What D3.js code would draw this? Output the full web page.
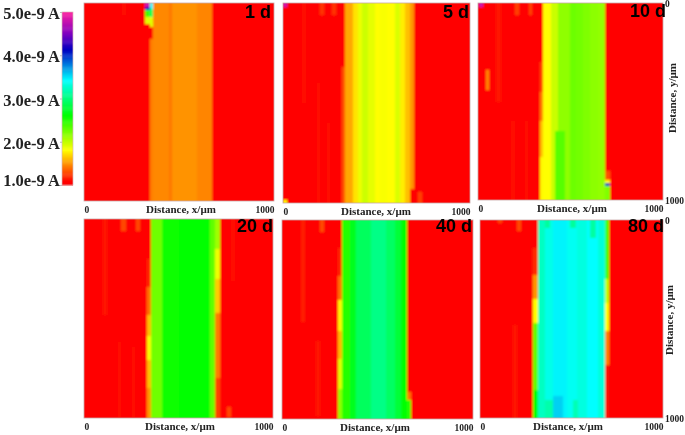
<!DOCTYPE html>
<html>
<head>
<meta charset="utf-8">
<script src="https://d3js.org/d3.v7.min.js"></script>
<style>
    html, body { margin: 0; padding: 0; background: #fff; }
    svg { display: block; }
    text { font-family: "Liberation Serif", serif; font-weight: bold; fill: #222; }
    .day { font-family: "Liberation Sans", sans-serif; font-size: 18px; fill: #000; }
</style>
</head>
<body>
<div id="chart"></div>
<script>
// current in units of 1e-9 A, distances in um
var legendTicks = [1, 2, 3, 4, 5];
var axisTicks = [0, 1000];
var background = 1.05;

var colorStops = [1.07, 1.8, 2.6, 3.42, 4.12, 4.5, 5];
var colorNames = ["#ff0000", "#ffff00", "#00ff00", "#00ffff", "#0000c0", "#8000c0", "#ff20a0"];

// vertical stripes of the band: edges in x, one value between each pair
var edges1 = [346, 365, 447, 461, 593, 672];
var values1 = [1.43, 1.46, 1.41, 1.49, 1.45];
var edges5 = [333, 376, 402, 420, 456, 491, 518, 557, 598, 625, 651, 678, 703];
var values5 = [1.55, 1.72, 1.86, 1.96, 1.88, 1.8, 1.82, 1.8, 1.92, 1.75, 1.62, 1.5];
var edges10 = [353, 396, 432, 495, 531, 567, 603, 648, 689];
var values10 = [1.8, 1.97, 2.15, 2.26, 2.24, 2.2, 2.16, 2.14, 2.12];
var edges20 = [356, 415, 500, 580, 665, 695, 718];
var values20 = [2.25, 2.55, 2.6, 2.58, 2.3, 2.1];
var edges40 = [312, 354, 386, 468, 546, 590, 625, 656];
var values40 = [2.5, 2.7, 2.9, 3.03, 2.92, 2.78, 2.62];
var edges80 = [315, 355, 400, 473, 528, 582, 646, 682, 704];
var values80 = [3.22, 3.35, 3.45, 3.38, 3.32, 3.42, 3.3, 2.4];

// local spots: x0, x1, y0, y1, value
var spots1 = [
    [323, 346, 0, 20, 4.8], [323, 346, 20, 37, 4.2], [323, 346, 37, 70, 2.4], [323, 346, 70, 104, 1.9],
    [346, 365, 0, 30, 3.4], [346, 365, 30, 70, 2.9], [346, 365, 70, 121, 1.9], [346, 365, 121, 180, 1.05],
    [200, 221, 0, 62, 1.12]
];
var spots5 = [
    [2, 20, 0, 20, 4.8], [100, 122, 0, 500, 1.12], [198, 221, 0, 60, 1.22], [262, 283, 0, 60, 1.22],
    [314, 333, 320, 1000, 1.3], [681, 703, 930, 1000, 1.05], [722, 742, 945, 1000, 1.25], [0, 20, 985, 1000, 1.8],
    [180, 198, 400, 1000, 1.1], [235, 250, 600, 1000, 1.09]
];
var spots10 = [
    [4, 27, 0, 22, 4.8], [99, 122, 0, 500, 1.14], [198, 221, 0, 62, 1.25], [274, 293, 0, 62, 1.25],
    [41, 61, 340, 441, 1.45], [333, 353, 300, 450, 1.25], [333, 353, 450, 600, 1.42], [333, 353, 600, 780, 1.62],
    [333, 353, 780, 1000, 1.78], [415, 470, 650, 1000, 2.33],
    [689, 713, 855, 897, 1.3], [689, 713, 897, 914, 1.8], [689, 713, 914, 931, 4.1], [689, 713, 931, 1000, 2.2],
    [180, 198, 600, 1000, 1.1], [255, 272, 600, 1000, 1.1]
];
var spots20 = [
    [101, 122, 0, 482, 1.13], [198, 221, 0, 62, 1.27], [274, 295, 0, 62, 1.27],
    [334, 356, 200, 340, 1.18], [334, 356, 340, 480, 1.4], [334, 356, 480, 590, 1.62], [334, 356, 590, 710, 1.82],
    [334, 356, 710, 850, 1.62], [334, 356, 850, 1000, 1.5],
    [695, 718, 150, 300, 1.85], [695, 718, 300, 470, 1.65], [695, 718, 470, 800, 1.42], [695, 718, 800, 1000, 1.25],
    [180, 198, 616, 995, 1.12], [254, 272, 645, 995, 1.12], [754, 776, 944, 995, 1.27], [776, 798, 0, 310, 1.09]
];
var spots40 = [
    [101, 122, 0, 511, 1.15], [197, 220, 0, 59, 1.28], [180, 197, 610, 985, 1.13],
    [291, 312, 142, 280, 1.18], [291, 312, 280, 400, 1.4], [291, 312, 400, 560, 1.78], [291, 312, 560, 700, 1.6],
    [291, 312, 700, 850, 1.9], [291, 312, 850, 1000, 2.15],
    [656, 677, 863, 905, 1.4], [656, 677, 905, 1000, 2.5]
];
var spots80 = [
    [100, 122, 0, 15, 1.25], [200, 222, 0, 55, 1.28], [182, 200, 530, 1000, 1.13],
    [291, 315, 140, 280, 1.2], [291, 315, 280, 400, 1.5], [291, 315, 400, 520, 1.8], [291, 315, 520, 860, 2.3], [291, 315, 860, 1000, 2.6],
    [355, 382, 0, 40, 3.1], [490, 525, 0, 40, 3.1], [600, 635, 0, 90, 3.12],
    [355, 400, 910, 1000, 3.15], [400, 455, 890, 1000, 3.55], [510, 535, 910, 1000, 3.18],
    [682, 704, 300, 420, 2.0], [682, 704, 420, 560, 1.8], [682, 704, 560, 730, 1.45], [682, 704, 730, 1000, 1.1], [704, 760, 980, 1000, 1.05]
];

var dayLabels = ["1 d", "5 d", "10 d", "20 d", "40 d", "80 d"];
var allEdges = [edges1, edges5, edges10, edges20, edges40, edges80];
var allValues = [values1, values5, values10, values20, values40, values80];
var allSpots = [spots1, spots5, spots10, spots20, spots40, spots80];

// pixel boxes of the six maps
var boxes = [
    {left: 84, right: 274, top: 3, bottom: 201, labelX: 181, dayX: 271, dayY: 18},
    {left: 283, right: 470, top: 3, bottom: 203, labelX: 376, dayX: 469, dayY: 18},
    {left: 478, right: 663, top: 3, bottom: 200, labelX: 572, dayX: 666, dayY: 17, yAxis: true, yLabelX: 672, yLabelY: 98},
    {left: 84, right: 273, top: 219, bottom: 418, labelX: 180, dayX: 273, dayY: 232},
    {left: 282, right: 473, top: 220, bottom: 419, labelX: 375, dayX: 472, dayY: 232},
    {left: 480, right: 663, top: 220, bottom: 418, labelX: 568, dayX: 664, dayY: 232, yAxis: true, yLabelX: 669, yLabelY: 320}
];

var width = 685, height = 435;

var color = d3.scaleLinear().domain(colorStops).range(colorNames).clamp(true);

var svg = d3.select("#chart").append("svg")
    .attr("width", width)
    .attr("height", height);

var defs = svg.append("defs");

defs.append("filter")
    .attr("id", "mapBlur")
    .attr("x", "-2%").attr("y", "-2%").attr("width", "104%").attr("height", "104%")
    .append("feGaussianBlur")
    .attr("stdDeviation", "0.95 0.8");

defs.append("filter")
    .attr("id", "textBlur")
    .attr("x", "-5%").attr("y", "-5%").attr("width", "110%").attr("height", "110%")
    .append("feGaussianBlur")
    .attr("stdDeviation", 0.35);

var root = svg.append("g");

function drawPanel(i) {
    var box = boxes[i];
    var x = d3.scaleLinear().domain(axisTicks).range([box.left, box.right]);
    var y = d3.scaleLinear().domain(axisTicks).range([box.top, box.bottom]);
    var g = root.append("g");

    // clip so the blur of the map stays inside its frame
    defs.append("clipPath")
        .attr("id", "clip" + i)
        .append("rect")
        .attr("x", x(0)).attr("y", y(0))
        .attr("width", x(1000) - x(0)).attr("height", y(1000) - y(0));

    var map = g.append("g")
        .attr("clip-path", "url(#clip" + i + ")")
        .append("g")
        .attr("filter", "url(#mapBlur)");

    map.append("rect")
        .attr("x", x(0) - 4).attr("y", y(0) - 4)
        .attr("width", x(1000) - x(0) + 8).attr("height", y(1000) - y(0) + 8)
        .attr("fill", color(background));

    var stripes = allValues[i].map(function(v, k) {
        return [allEdges[i][k], allEdges[i][k + 1], 0, 1000, v];
    });

    map.selectAll("rect.cell")
        .data(stripes.concat(allSpots[i]))
        .enter().append("rect")
        .attr("class", "cell")
        .attr("shape-rendering", "crispEdges")
        .attr("x", function(d) { return x(d[0]); })
        .attr("y", function(d) { return y(d[2]) - (d[2] === 0 ? 4 : 0); })
        .attr("width", function(d) { return x(d[1]) - x(d[0]); })
        .attr("height", function(d) {
            return y(d[3]) - y(d[2]) + (d[2] === 0 ? 4 : 0) + (d[3] === 1000 ? 4 : 0);
        })
        .attr("fill", function(d) { return color(d[4]); });

    g.append("rect")
        .attr("x", x(0)).attr("y", y(0))
        .attr("width", x(1000) - x(0)).attr("height", y(1000) - y(0))
        .attr("fill", "none")
        .attr("stroke", "#c9a9a9")
        .attr("stroke-width", 0.8);

    var labels = g.append("g").attr("filter", "url(#textBlur)");

    var xAxis = d3.axisBottom(x).tickValues(axisTicks).tickSize(0).tickPadding(3).tickFormat(d3.format("d"));
    var ax = labels.append("g")
        .attr("transform", "translate(0," + (box.bottom + 2) + ")")
        .call(xAxis);
    ax.select(".domain").remove();
    ax.selectAll("text")
        .attr("font-size", 9.5)
        .attr("font-family", null)
        .style("text-anchor", function(d) { return d === 0 ? "start" : "end"; });

    labels.append("text")
        .attr("x", box.labelX)
        .attr("y", box.bottom + 11.5)
        .attr("text-anchor", "middle")
        .attr("font-size", 11)
        .text("Distance, x/\u00b5m");

    labels.append("text")
        .attr("class", "day")
        .attr("x", box.dayX)
        .attr("y", box.dayY)
        .attr("text-anchor", "end")
        .text(dayLabels[i]);

    if (box.yAxis) {
        var yAxis = d3.axisRight(y).tickValues(axisTicks).tickSize(0).tickPadding(2).tickFormat(d3.format("d"));
        var ay = labels.append("g")
            .attr("transform", "translate(" + box.right + ",0)")
            .call(yAxis);
        ay.select(".domain").remove();
        ay.selectAll("text").attr("font-size", 9.5).attr("font-family", null);

        labels.append("text")
            .attr("text-anchor", "middle")
            .attr("font-size", 11)
            .attr("transform", "translate(" + (box.yLabelX + 4) + "," + box.yLabelY + ")rotate(-90)")
            .text("Distance, y/\u00b5m");
    }
}

d3.range(6).forEach(drawPanel);

// colour legend
var legendY = d3.scaleLinear().domain([1, 5]).range([185, 12]);
var legendCells = d3.range(1, 5, 0.025);

root.append("g").selectAll("rect")
    .data(legendCells)
    .enter().append("rect")
    .attr("x", 62)
    .attr("width", 11)
    .attr("y", function(d) { return legendY(d + 0.025); })
    .attr("height", function(d) { return legendY(d) - legendY(d + 0.025) + 0.5; })
    .attr("fill", function(d) { return color(d); });

root.append("rect")
    .attr("x", 62).attr("y", 12).attr("width", 11).attr("height", 173)
    .attr("fill", "none").attr("stroke", "#d8b8b8").attr("stroke-width", 0.7);

var legendAxis = d3.axisLeft(legendY)
    .tickValues(legendTicks)
    .tickSize(2)
    .tickPadding(0)
    .tickFormat(function(d) { return d.toFixed(1) + "e-9 A"; });

var legendG = root.append("g")
    .attr("transform", "translate(62,0)")
    .attr("filter", "url(#textBlur)")
    .call(legendAxis);
legendG.select(".domain").remove();
legendG.selectAll("line").attr("stroke", "#bbb");
legendG.selectAll("text")
    .attr("font-size", 16.5)
    .attr("font-family", null)
    .attr("dy", function(d) { return d === 1 ? "0" : d === 5 ? "0.38em" : d === 2 ? "0.4em" : "0.4em"; });
</script>
</body>
</html>
